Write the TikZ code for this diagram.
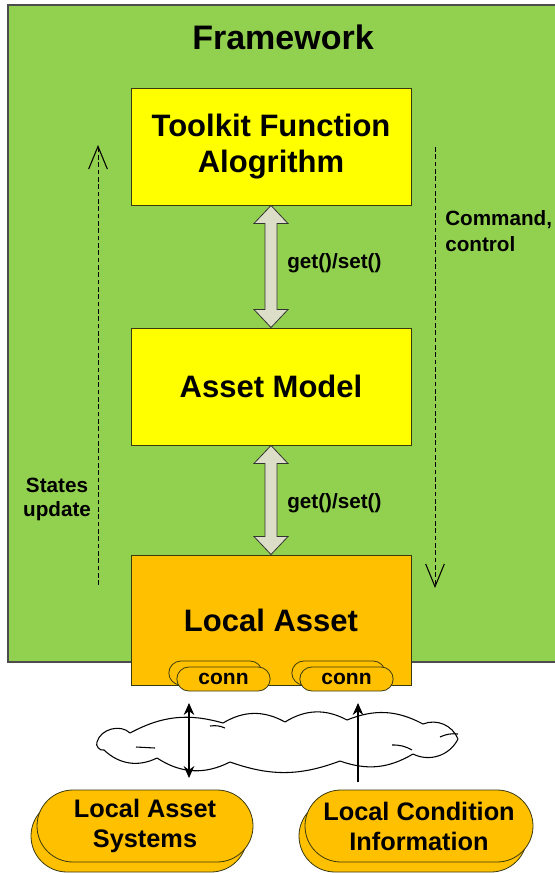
\documentclass[tikz,border=0pt]{standalone}
\usepackage{fontspec}
\setmainfont{Liberation Sans}
\usetikzlibrary{arrows.meta,shapes.misc,calc}
\definecolor{fwgreen}{HTML}{92D050}
\definecolor{boxyellow}{HTML}{FFFF00}
\definecolor{boxorange}{HTML}{FFC000}
\definecolor{edgeolive}{HTML}{3A3A10}
\definecolor{shaftgrey}{HTML}{DCDEC8}
\tikzset{
  block/.style={draw=edgeolive, line width=0.7pt, minimum width=210pt, inner sep=0pt,
    font=\bfseries\fontsize{23.25}{27}\selectfont, align=center},
  pill/.style={draw=edgeolive, line width=0.6pt, fill=boxorange, rounded rectangle,
    rounded rectangle arc length=180, inner sep=0pt, align=center},
  connpill/.style={pill, minimum width=70pt, minimum height=18pt,
    font=\bfseries\fontsize{15.75}{18}\selectfont},
  srcpill/.style={pill, minimum height=54pt,
    font=\bfseries\fontsize{19}{22.5}\selectfont},
  dblarrow/.style={draw=black!80, line width=0.6pt, fill=shaftgrey, line join=miter},
  flow/.style={draw=black, line width=0.6pt, dash pattern=on 3.5pt off 2pt,
    -{Straight Barb[length=17pt,width=14pt,line width=0.8pt]}},
  link/.style={draw=black, line width=0.8pt},
  note/.style={font=\bfseries\fontsize{15.5}{19.5}\selectfont, inner sep=0pt},
  cloudline/.style={draw=black, line width=0.8pt, fill=white, line join=round},
}
\begin{document}
\begin{tikzpicture}[x=0.75pt, y=-0.75pt]
\useasboundingbox (0,0) rectangle (554,873);
\fill[white] (0,0) rectangle (554,873);

% framework area
\draw[fill=fwgreen, draw=black!70, line width=0.8pt] (8,5) rectangle (570,662);
\node[font=\bfseries\fontsize{25.5}{30}\selectfont] (fw) at (283,37) {Framework};

% layered blocks
\node[block, fill=boxyellow, minimum height=87.75pt] (tk) at (271,146.5)
  {Toolkit Function\\Alogrithm};
\node[block, fill=boxyellow, minimum height=87.75pt] (am) at (271,386.5) {Asset Model};

% get/set double arrows
\draw[dblarrow] (tk.south) -- ++(17,18) -- ++(-11,0) -- ($(am.north)+(6,-18)$)
  -- ++(11,0) -- (am.north) -- ++(-17,-18) -- ++(11,0)
  -- ($(tk.south)+(-6,18)$) -- ++(-11,0) -- cycle;
\node[note, anchor=west] (gs1) at (287,263) {get()/set()};

\node[block, fill=boxorange, minimum height=97.5pt] (la) at (271,620) {Local Asset};

\draw[dblarrow] (am.south) -- ++(17,18) -- ++(-11,0) -- ($(la.north)+(6,-18)$)
  -- ++(11,0) -- (la.north) -- ++(-17,-18) -- ++(11,0)
  -- ($(am.south)+(-6,18)$) -- ++(-11,0) -- cycle;
\node[note, anchor=west] (gs2) at (287,503) {get()/set()};

% state / command flows
\coordinate (upS) at (98,585);
\coordinate (upE) at (98,145);
\draw[flow] (upS) -- (upE);
\node[note, align=center, font=\bfseries\fontsize{15.5}{18}\selectfont] (st) at (57,499)
  {States\\update};

\coordinate (dnS) at (435,147);
\coordinate (dnE) at (435,588);
\draw[flow] (dnS) -- (dnE);
\node[note, align=left, anchor=west] (cmd) at (445,231) {Command,\\control};

% connectors on the local asset
\node[connpill] (c1b) at (215.5,673) {};
\node[connpill] (c1) at (223.5,679) {conn};
\node[connpill] (c2b) at (338.5,673) {};
\node[connpill] (c2) at (346.5,679) {conn};

% network cloud
\coordinate (net) at (278,742);
\path[cloudline] (97,742)
  to[bend left=60] (130,733)
  to[bend left=22] (223,723)
  to[bend left=30] (285,722)
  to[bend left=30] (347,720)
  to[bend left=25] (423,724)
  to[bend left=45] (458,739)
  to[bend left=45] (413,754)
  to[bend left=25] (340,761)
  to[bend left=20] (230,762)
  to[bend left=30] (157,758)
  to[bend left=35] (104,750)
  to[bend left=70] cycle;
\draw[line width=0.8pt] (136,747) -- (155,748);
\draw[line width=0.8pt] (210,726) to[bend left=15] (225,728);
\draw[line width=0.8pt] (392,745) to[bend left=15] (412,750);
\draw[line width=0.8pt] (440,737) to[bend left=15] (458,734);

% external sources
\node[srcpill, minimum width=162pt] (s1b) at (139,836) {};
\node[srcpill, minimum width=162pt] (s1) at (145,826) {Local Asset\\Systems};
\node[srcpill, minimum width=171pt] (s2b) at (413,836) {};
\node[srcpill, minimum width=171pt] (s2) at (419,826) {Local Condition\\Information};

% links through the network
\coordinate (l1t) at (189,703);
\coordinate (l1b) at (189,778);
\draw[link, {Stealth[length=9pt,width=8pt]}-{Stealth[length=9pt,width=8pt]}] (l1t) -- (l1b);
\coordinate (l2t) at (358,703);
\coordinate (l2b) at (358,782);
\draw[link, -{Stealth[length=9pt,width=8pt]}] (l2b) -- (l2t);
\end{tikzpicture}
\end{document}
